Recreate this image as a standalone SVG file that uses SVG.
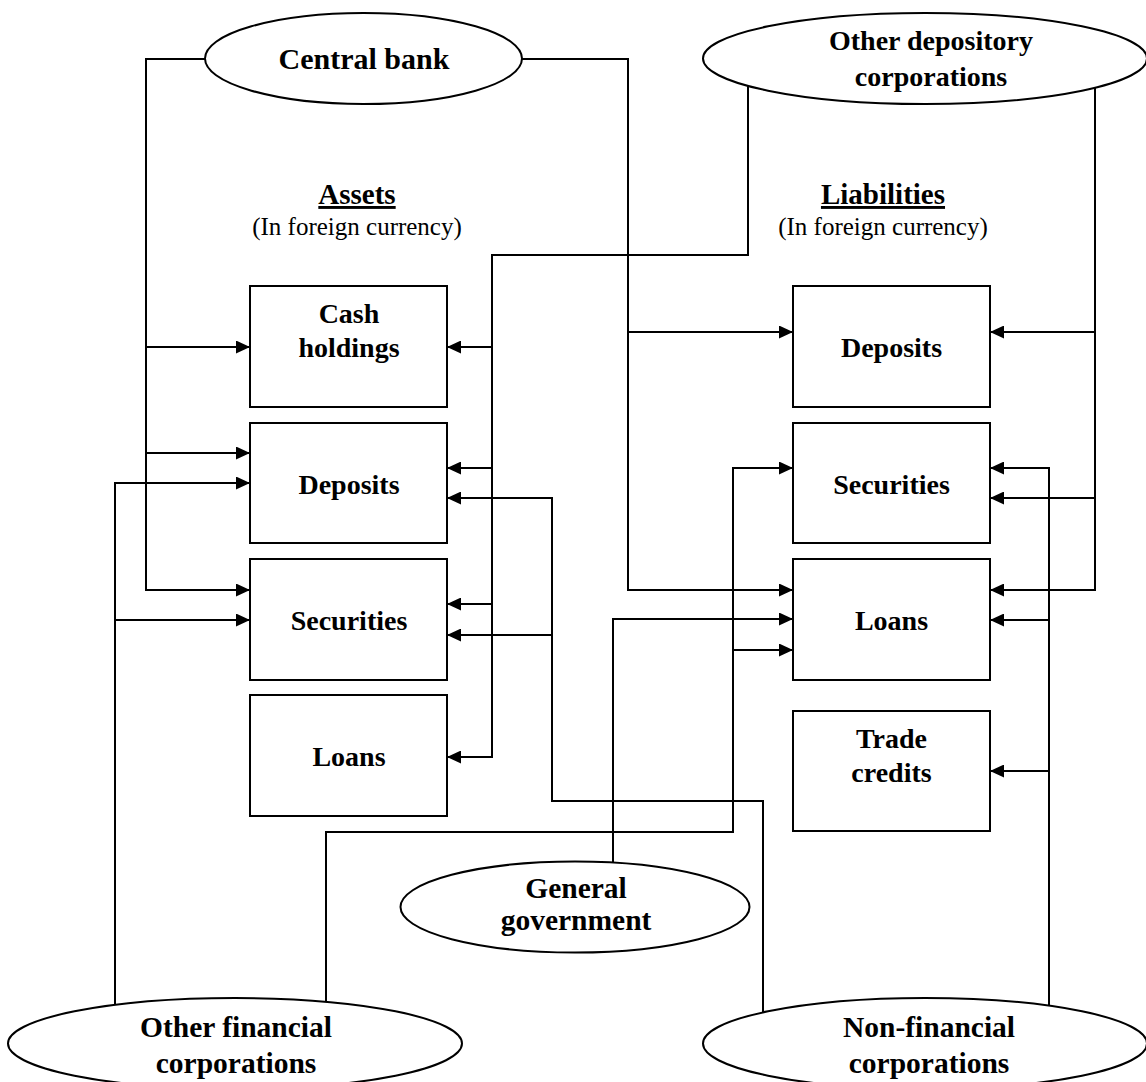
<svg xmlns="http://www.w3.org/2000/svg" width="1146" height="1082" viewBox="0 0 1146 1082">
<style>
.bg{fill:#ffffff}
.box{fill:#ffffff;stroke:#000;stroke-width:2}
.ell{fill:#ffffff;stroke:#000;stroke-width:2}
.lbl{font-family:"Liberation Serif","Times New Roman",serif;font-weight:bold;font-size:28px;fill:#000;text-anchor:middle}
.big{font-size:29.5px}
.cb{font-size:30px}
.ttl{font-family:"Liberation Serif","Times New Roman",serif;font-weight:bold;font-size:29px;fill:#000;text-anchor:middle;text-decoration:underline}
.sub{font-family:"Liberation Serif","Times New Roman",serif;font-size:25px;fill:#000;text-anchor:middle}
.ar{fill:none;stroke:#000;stroke-width:2;marker-end:url(#ah)}
</style>
<defs>
<marker id="ah" markerWidth="14" markerHeight="13" refX="14" refY="6.5" orient="auto" markerUnits="userSpaceOnUse">
<path d="M0,0 L14,6.5 L0,13 z" fill="#000"/>
</marker>
</defs>
<rect class="bg" x="0" y="0" width="1146" height="1082"/>

<g id="connectors">
<!-- Central bank -->
<path class="ar" d="M205,59 H146 V590 H250"/>
<path class="ar" d="M146,347 H250"/>
<path class="ar" d="M146,453 H250"/>
<path class="ar" d="M522,59 H628 V590 H793"/>
<path class="ar" d="M628,332 H793"/>
<!-- Other depository corporations -->
<path class="ar" d="M748,86 V255 H492 V757 H447"/>
<path class="ar" d="M492,347 H447"/>
<path class="ar" d="M492,468 H447"/>
<path class="ar" d="M492,604 H447"/>
<path class="ar" d="M1095,88 V590 H990"/>
<path class="ar" d="M1095,332 H990"/>
<path class="ar" d="M1095,498 H990"/>
<!-- Other financial corporations -->
<path class="ar" d="M115,1006 V483 H250"/>
<path class="ar" d="M115,620 H250"/>
<path class="ar" d="M326,1003 V832 H733 V468 H793"/>
<path class="ar" d="M733,650 H793"/>
<!-- General government -->
<path class="ar" d="M613,863 V619 H793"/>
<!-- Non-financial corporations -->
<path class="ar" d="M763,1013 V801 H552 V498 H447"/>
<path class="ar" d="M552,635 H447"/>
<path class="ar" d="M1049,1007 V468 H990"/>
<path class="ar" d="M1049,620 H990"/>
<path class="ar" d="M1049,771 H990"/>
</g>

<g id="titles">
<text class="ttl" x="357" y="204">Assets</text>
<text class="sub" x="357" y="235">(In foreign currency)</text>
<text class="ttl" x="883" y="204">Liabilities</text>
<text class="sub" x="883" y="235">(In foreign currency)</text>
</g>

<g id="central-bank">
<ellipse class="ell" cx="363.5" cy="58.5" rx="158.5" ry="45.5"/>
<text class="lbl cb" x="364" y="69">Central bank</text>
</g>
<g id="other-depository-corporations">
<ellipse class="ell" cx="925" cy="58.5" rx="222" ry="45.5"/>
<text class="lbl" x="931" y="50">Other depository</text>
<text class="lbl" x="931" y="86">corporations</text>
</g>
<g id="general-government">
<ellipse class="ell" cx="575" cy="907" rx="174.5" ry="45.5"/>
<text class="lbl big" x="576" y="898">General</text>
<text class="lbl big" x="576" y="930">government</text>
</g>
<g id="other-financial-corporations">
<ellipse class="ell" cx="235" cy="1043.5" rx="227" ry="45.5"/>
<text class="lbl big" x="236" y="1037">Other financial</text>
<text class="lbl big" x="236" y="1073">corporations</text>
</g>
<g id="non-financial-corporations">
<ellipse class="ell" cx="925" cy="1043.5" rx="222" ry="45.5"/>
<text class="lbl big" x="929" y="1037">Non-financial</text>
<text class="lbl big" x="929" y="1073">corporations</text>
</g>

<g id="asset-cash-holdings">
<rect class="box" x="250" y="286" width="197" height="121"/>
<text class="lbl" x="349" y="323">Cash</text>
<text class="lbl" x="349" y="357">holdings</text>
</g>
<g id="asset-deposits">
<rect class="box" x="250" y="423" width="197" height="120"/>
<text class="lbl" x="349" y="494">Deposits</text>
</g>
<g id="asset-securities">
<rect class="box" x="250" y="559" width="197" height="121"/>
<text class="lbl" x="349" y="630">Securities</text>
</g>
<g id="asset-loans">
<rect class="box" x="250" y="695" width="197" height="121"/>
<text class="lbl" x="349" y="766">Loans</text>
</g>

<g id="liability-deposits">
<rect class="box" x="793" y="286" width="197" height="121"/>
<text class="lbl" x="891.5" y="357">Deposits</text>
</g>
<g id="liability-securities">
<rect class="box" x="793" y="423" width="197" height="120"/>
<text class="lbl" x="891.5" y="494">Securities</text>
</g>
<g id="liability-loans">
<rect class="box" x="793" y="559" width="197" height="121"/>
<text class="lbl" x="891.5" y="630">Loans</text>
</g>
<g id="liability-trade-credits">
<rect class="box" x="793" y="711" width="197" height="120"/>
<text class="lbl" x="891.5" y="748">Trade</text>
<text class="lbl" x="891.5" y="782">credits</text>
</g>
</svg>
